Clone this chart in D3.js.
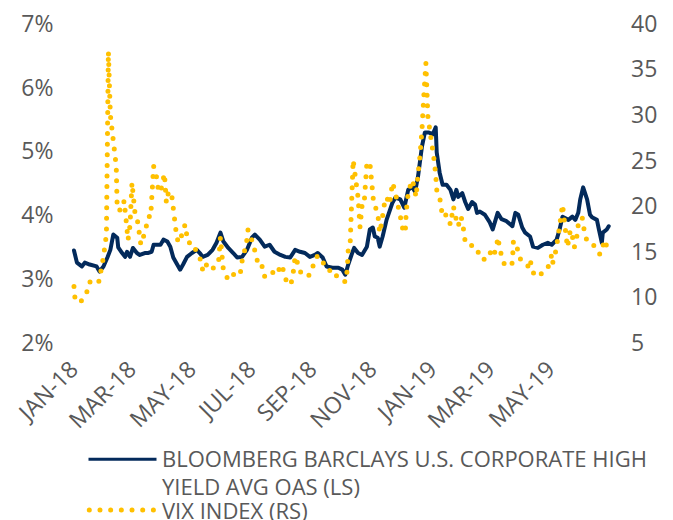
<!DOCTYPE html>
<html>
<head>
<meta charset="utf-8">
<script src="https://cdn.jsdelivr.net/npm/d3@7"></script>
<style>
  html, body { margin: 0; padding: 0; background: #ffffff; }
  svg { display: block; }
  text { font-family: "Open Sans", "Noto Sans", sans-serif; fill: #595959; }
</style>
</head>
<body>
<svg id="chart" width="673" height="520"></svg>
<script>
// ---------------- DATA ----------------
const seriesNames = ["BLOOMBERG BARCLAYS U.S. CORPORATE HIGH YIELD AVG OAS (LS)", "VIX INDEX (RS)"];

const hyDates = [
"2018-01-02","2018-01-05","2018-01-10","2018-01-13","2018-01-18","2018-01-25","2018-01-28","2018-02-01","2018-02-05","2018-02-08",
"2018-02-11","2018-02-15","2018-02-16","2018-02-20","2018-02-23","2018-02-25","2018-02-28","2018-03-03","2018-03-07","2018-03-10",
"2018-03-15","2018-03-18","2018-03-22","2018-03-24","2018-03-31","2018-04-03","2018-04-07","2018-04-10","2018-04-13","2018-04-17",
"2018-04-20","2018-04-23","2018-04-27","2018-05-02","2018-05-07","2018-05-10","2018-05-13","2018-05-18","2018-05-23","2018-05-27",
"2018-05-31","2018-06-03","2018-06-08","2018-06-13","2018-06-17","2018-06-22","2018-06-27","2018-07-02","2018-07-05","2018-07-10",
"2018-07-15","2018-07-20","2018-07-25","2018-07-31","2018-08-05","2018-08-10","2018-08-15","2018-08-20","2018-08-25","2018-08-30",
"2018-09-04","2018-09-07","2018-09-12","2018-09-16","2018-09-22","2018-09-28","2018-10-02","2018-10-05","2018-10-08","2018-10-12",
"2018-10-14","2018-10-18","2018-10-22","2018-10-27","2018-10-30","2018-11-02","2018-11-04","2018-11-07","2018-11-09","2018-11-12",
"2018-11-16","2018-11-22","2018-11-25","2018-11-30","2018-12-04","2018-12-08","2018-12-12","2018-12-15","2018-12-18","2018-12-22",
"2018-12-25","2018-12-29","2019-01-02","2019-01-05","2019-01-06","2019-01-09","2019-01-12","2019-01-16","2019-01-20","2019-01-23",
"2019-01-26","2019-01-28","2019-02-01","2019-02-04","2019-02-07","2019-02-11","2019-02-14","2019-02-16","2019-02-19","2019-02-24",
"2019-03-01","2019-03-04","2019-03-09","2019-03-13","2019-03-18","2019-03-24","2019-03-27","2019-03-30","2019-04-03","2019-04-06",
"2019-04-11","2019-04-14","2019-04-19","2019-04-24","2019-04-29","2019-05-03","2019-05-08","2019-05-11","2019-05-14","2019-05-20",
"2019-05-24","2019-05-27","2019-05-30","2019-06-01","2019-06-04","2019-06-08","2019-06-11","2019-06-13","2019-06-18","2019-06-20",
"2019-06-23","2019-06-24","2019-06-28","2019-06-30"
];
const hyValues = [
3.45,3.26,3.20,3.26,3.23,3.20,3.12,3.20,3.34,3.46,
3.70,3.65,3.50,3.41,3.35,3.43,3.35,3.49,3.41,3.38,
3.41,3.41,3.43,3.54,3.54,3.62,3.59,3.51,3.34,3.23,
3.15,3.23,3.35,3.41,3.46,3.41,3.35,3.38,3.46,3.57,
3.73,3.59,3.49,3.41,3.34,3.35,3.46,3.65,3.70,3.62,
3.51,3.54,3.43,3.38,3.35,3.34,3.46,3.43,3.41,3.35,
3.38,3.41,3.34,3.20,3.18,3.18,3.15,3.07,3.23,3.41,
3.49,3.41,3.38,3.51,3.78,3.81,3.67,3.65,3.51,3.67,
3.93,4.20,4.28,4.25,4.12,4.40,4.45,4.37,4.61,5.08,
5.30,5.30,5.27,5.38,4.99,4.67,4.48,4.48,4.40,4.25,
4.40,4.29,4.35,4.21,4.10,4.21,4.17,4.04,4.06,4.01,
3.89,3.78,4.04,3.94,3.91,3.83,4.04,4.01,3.81,3.73,
3.67,3.51,3.49,3.54,3.57,3.54,3.62,3.78,3.98,3.93,
3.98,3.93,4.04,4.25,4.44,4.25,4.01,3.97,3.93,3.78,
3.57,3.73,3.78,3.83
];

const vixDates = [
"2018-01-02","2018-01-03","2018-01-08","2018-01-12","2018-01-16","2018-01-18","2018-01-21","2018-01-27","2018-01-31","2018-02-03",
"2018-02-04","2018-02-06","2018-02-08","2018-02-14","2018-02-15","2018-02-20","2018-02-22","2018-02-24","2018-02-26","2018-02-28",
"2018-03-02","2018-03-05","2018-03-08","2018-03-11","2018-03-15","2018-03-17","2018-03-19","2018-03-21","2018-03-24","2018-03-27",
"2018-03-28","2018-03-31","2018-04-02","2018-04-04","2018-04-06","2018-04-08","2018-04-11","2018-04-16","2018-04-18","2018-04-22",
"2018-04-25","2018-04-28","2018-05-03","2018-05-07","2018-05-12","2018-05-13","2018-05-17","2018-05-22","2018-05-25","2018-05-29",
"2018-05-31","2018-06-02","2018-06-03","2018-06-08","2018-06-13","2018-06-17","2018-06-20","2018-06-23","2018-06-26","2018-06-28",
"2018-06-30","2018-07-03","2018-07-07","2018-07-08","2018-07-13","2018-07-15","2018-07-18","2018-07-22","2018-07-28","2018-07-31",
"2018-08-03","2018-08-07","2018-08-11","2018-08-13","2018-08-15","2018-08-18","2018-08-20","2018-08-25","2018-08-28","2018-09-01",
"2018-09-02","2018-09-06","2018-09-11","2018-09-14","2018-09-19","2018-09-22","2018-09-28","2018-10-05","2018-10-07","2018-10-08",
"2018-10-10","2018-10-13","2018-10-18","2018-10-20","2018-10-22","2018-10-24","2018-10-27","2018-10-30","2018-11-03","2018-11-06",
"2018-11-07","2018-11-09","2018-11-11","2018-11-14","2018-11-16","2018-11-19","2018-11-22","2018-11-25","2018-11-27","2018-11-30",
"2018-12-03","2018-12-05","2018-12-06","2018-12-08","2018-12-12","2018-12-14","2018-12-16","2018-12-18","2018-12-20","2018-12-22",
"2018-12-24","2018-12-26","2018-12-28","2018-12-31","2019-01-03","2019-01-05","2019-01-06","2019-01-09","2019-01-12","2019-01-16",
"2019-01-20","2019-01-23","2019-01-26","2019-01-28","2019-01-30","2019-02-01","2019-02-04","2019-02-09","2019-02-11","2019-02-14",
"2019-02-17","2019-02-22","2019-02-26","2019-03-01","2019-03-04","2019-03-08","2019-03-09","2019-03-13","2019-03-16","2019-03-21",
"2019-03-24","2019-03-25","2019-03-28","2019-03-30","2019-04-03","2019-04-06","2019-04-10","2019-04-11","2019-04-14","2019-04-16",
"2019-04-19","2019-04-24","2019-04-28","2019-05-01","2019-05-03","2019-05-04","2019-05-06","2019-05-08","2019-05-11","2019-05-14",
"2019-05-16","2019-05-19","2019-05-22","2019-05-25","2019-05-26","2019-05-29","2019-05-30","2019-06-03","2019-06-05","2019-06-08",
"2019-06-14","2019-06-19","2019-06-21","2019-06-24","2019-06-26","2019-06-29"
];
const vixValues = [
11.2,9.9,9.4,10.0,10.8,11.7,11.5,11.6,13.8,16.0,
17.1,37.0,30.0,24.4,19.6,19.6,20.6,18.5,16.3,17.9,
22.6,19.3,18.2,15.8,17.1,18.0,18.9,18.8,24.4,23.2,
22.2,21.5,22.6,23.6,20.4,21.5,21.6,17.1,16.0,16.9,
18.0,16.0,16.0,14.9,13.9,12.8,13.6,13.0,13.4,13.8,
16.6,14.1,13.0,11.9,12.5,12.7,12.5,14.7,15.5,17.4,
17.1,15.8,14.5,13.4,13.4,12.3,12.3,12.8,12.5,13.6,
13.0,11.4,11.6,12.7,14.5,13.6,12.8,12.7,12.3,12.8,
13.4,14.5,14.4,13.3,13.0,12.3,12.4,11.7,13.0,15.2,
16.0,25.1,21.0,17.7,20.0,20.0,24.8,24.8,20.2,19.6,
19.3,17.1,18.2,20.4,21.0,20.2,22.6,21.5,20.4,18.9,
17.2,17.1,19.4,21.5,22.9,22.2,21.0,23.5,25.5,28.4,
32.3,35.7,29.9,27.6,25.4,23.5,21.8,21.0,18.8,19.1,
18.0,20.0,18.5,17.8,18.9,18.5,16.1,16.0,15.6,15.6,
15.0,14.1,14.4,15.0,14.4,15.5,16.6,14.5,13.6,13.4,
13.8,16.1,16.1,14.7,13.8,13.6,13.4,14.1,12.8,12.3,
12.4,12.7,13.0,13.8,14.7,13.8,14.5,15.6,17.8,20.2,
18.3,15.5,17.4,16.3,15.5,16.9,18.0,18.8,17.4,16.1,
15.8,15.2,14.7,15.6,16.3,15.2
];

const xTickDates = ["2018-01-01","2018-03-01","2018-05-01","2018-07-01","2018-09-01","2018-11-01","2019-01-01","2019-03-01","2019-05-01"];
const leftTicks = [2, 3, 4, 5, 6, 7];
const rightTicks = [5, 10, 15, 20, 25, 30, 35, 40];

// ---------------- STYLE ----------------
const NAVY = "#032a5b";
const GOLD = "#ffc000";

const parse = d3.timeParse("%Y-%m-%d");
const svg = d3.select("#chart");

const x = d3.scaleTime()
  .domain([parse("2018-01-01"), parse("2019-07-01")])
  .range([73, 609.7]);
const yL = d3.scaleLinear().domain([2, 7]).range([343, 24]);
const yR = d3.scaleLinear().domain([5, 40]).range([343, 24]);

const hy = hyDates.map((d, i) => ({ date: parse(d), v: hyValues[i] }));
const vix = vixDates.map((d, i) => ({ date: parse(d), v: vixValues[i] }));

// Left axis
const gL = svg.append("g").attr("transform", "translate(53.5,0)")
  .call(d3.axisLeft(yL).tickValues(leftTicks).tickSize(0).tickPadding(0).tickFormat(d => d + "%"));
gL.select(".domain").remove();
gL.selectAll("text").style("font-size", "23px").style("font-family", "'Open Sans'").attr("fill", "#595959");

// Right axis
const gR = svg.append("g").attr("transform", "translate(631,0)")
  .call(d3.axisRight(yR).tickValues(rightTicks).tickSize(0).tickPadding(0));
gR.select(".domain").remove();
gR.selectAll("text").style("font-size", "23px").style("font-family", "'Open Sans'").attr("fill", "#595959");

// Bottom axis (rotated labels)
const fmt = d3.timeFormat("%b-%y");
const gX = svg.append("g").attr("transform", "translate(0,371)")
  .call(d3.axisBottom(x).tickValues(xTickDates.map(parse)).tickSize(0).tickPadding(0)
    .tickFormat(d => fmt(d).toUpperCase()));
gX.select(".domain").remove();
gX.selectAll("text")
  .attr("y", 0).attr("dy", 0).attr("x", 0)
  .attr("transform", "translate(6,0) rotate(-45)")
  .style("text-anchor", "end")
  .style("font-size", "23px").style("font-family", "'Open Sans'").attr("fill", "#595959");

// HY OAS line
svg.append("path")
  .datum(hy)
  .attr("fill", "none")
  .attr("stroke", NAVY)
  .attr("stroke-width", 4)
  .attr("stroke-linejoin", "round")
  .attr("stroke-linecap", "round")
  .attr("d", d3.line().x(d => x(d.date)).y(d => yL(d.v)));

// VIX dotted line
svg.append("path")
  .datum(vix)
  .attr("fill", "none")
  .attr("stroke", GOLD)
  .attr("stroke-width", 5)
  .attr("stroke-linecap", "round")
  .attr("stroke-linejoin", "round")
  .attr("stroke-dasharray", "0 10.6")
  .attr("d", d3.line().x(d => x(d.date)).y(d => yR(d.v)));

// Legend
const lg = svg.append("g");
lg.append("line").attr("x1", 88.5).attr("x2", 156.5).attr("y1", 459.3).attr("y2", 459.3)
  .attr("stroke", NAVY).attr("stroke-width", 3);
lg.append("text").attr("x", 162).attr("y", 467).style("font-size", "22px")
  .text("BLOOMBERG BARCLAYS U.S. CORPORATE HIGH");
lg.append("text").attr("x", 162).attr("y", 494.5).style("font-size", "22px")
  .text("YIELD AVG OAS (LS)");
lg.append("line").attr("x1", 89.3).attr("x2", 153.4).attr("y1", 510).attr("y2", 510)
  .attr("stroke", GOLD).attr("stroke-width", 5).attr("stroke-linecap", "round")
  .attr("stroke-dasharray", "0 10.68");
lg.append("text").attr("x", 162).attr("y", 518.5).style("font-size", "22px")
  .text(seriesNames[1]);
</script>
</body>
</html>
